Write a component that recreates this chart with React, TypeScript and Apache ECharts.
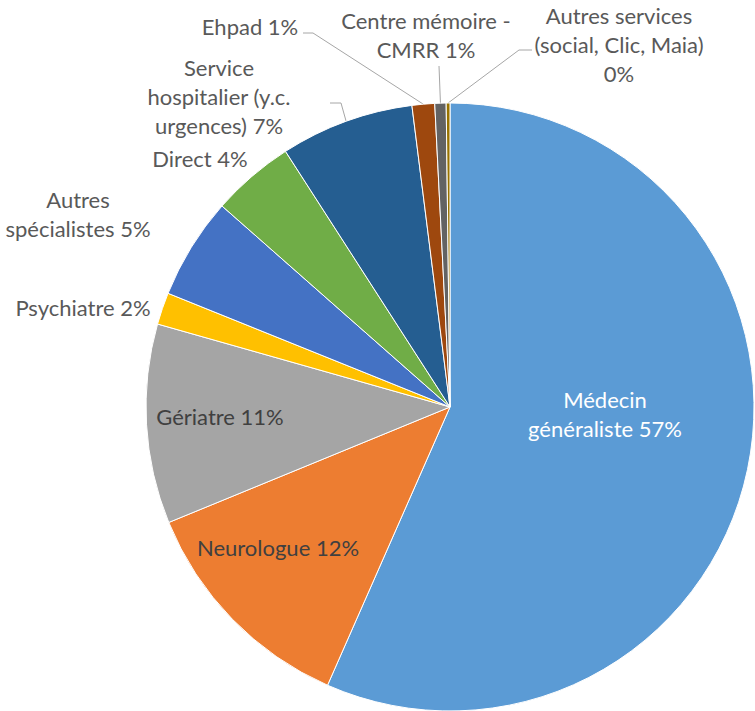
import React, { useEffect, useRef } from 'react';
import * as echarts from 'echarts';

const categories = [
  'Médecin généraliste',
  'Neurologue',
  'Gériatre',
  'Psychiatre',
  'Autres spécialistes',
  'Direct',
  'Service hospitalier (y.c. urgences)',
  'Ehpad',
  'Centre mémoire - CMRR',
  'Autres services (social, Clic, Maia)',
];
const values = [56.6, 12.2, 10.6, 1.7, 5.4, 4.4, 7.1, 1.2, 0.6, 0.2];
const colors = ['#5B9BD5', '#ED7D31', '#A5A5A5', '#FFC000', '#4472C4', '#70AD47', '#255E91', '#9E480E', '#636363', '#997300'];
const labelTemplates = [
  'Médecin\ngénéraliste {p}',
  'Neurologue {p}',
  'Gériatre {p}',
  'Psychiatre {p}',
  'Autres\nspécialistes {p}',
  'Direct {p}',
  'Service\nhospitalier (y.c.\nurgences) {p}',
  'Ehpad {p}',
  'Centre mémoire -\nCMRR {p}',
  'Autres services\n(social, Clic, Maia)\n{p}',
];

// label layout (page pixels), separate from data
const labelCenters: number[][] = [
  [605, 414], [278, 547], [220, 416], [83, 307], [78, 214],
  [200, 158], [219, 96], [250, 26], [426, 35], [619, 44],
];
const guideBends: (number[][] | null)[] = [
  null, null, null, null, null, null,
  [[341, 103], [330, 103]],
  [[313, 33], [303, 33]],
  [[439, 66]],
  [[519, 50], [532, 50]],
];

export default function App() {
  const ref = useRef<HTMLDivElement>(null);
  useEffect(() => {
    if (!ref.current) return;
    const chart = echarts.init(ref.current, undefined, { renderer: 'svg' });
    const data = categories.map((name, i) => {
      const item: any = { name, value: values[i], itemStyle: { color: colors[i] } };
      if (i < 3) {
        item.label = { position: 'inside', color: i === 0 ? '#FFFFFF' : '#404040' };
        item.labelLine = { show: false };
      } else if (!guideBends[i]) {
        item.labelLine = { show: false };
      }
      return item;
    });
    chart.setOption({
      animation: false,
      backgroundColor: '#FFFFFF',
      series: [
        {
          type: 'pie',
          center: [450, 407],
          radius: 304,
          startAngle: 90,
          clockwise: true,
          avoidLabelOverlap: false,
          emphasis: { disabled: true },
          itemStyle: { borderColor: '#FFFFFF', borderWidth: 1 },
          label: {
            show: true,
            position: 'outside',
            fontFamily: 'Lato',
            fontSize: 22,
            lineHeight: 29,
            color: '#595959',
            formatter: (p: any) => labelTemplates[p.dataIndex].replace('{p}', Math.round(p.percent) + '%'),
          },
          labelLine: { show: true, length: 10, length2: 10, lineStyle: { color: '#A6A6A6', width: 1 } },
          labelLayout: (params: any) => {
            const i = params.dataIndex;
            const [x, y] = labelCenters[i];
            const res: any = { x, y, align: 'center', verticalAlign: 'middle' };
            const bends = guideBends[i];
            if (bends && params.labelLinePoints) {
              res.labelLinePoints = [params.labelLinePoints[0], ...bends];
            }
            return res;
          },
          data,
        },
      ],
    });
    return () => chart.dispose();
  }, []);
  return <div ref={ref} style={{ position: 'absolute', left: 0, top: 0, width: 755, height: 711 }} />;
}
